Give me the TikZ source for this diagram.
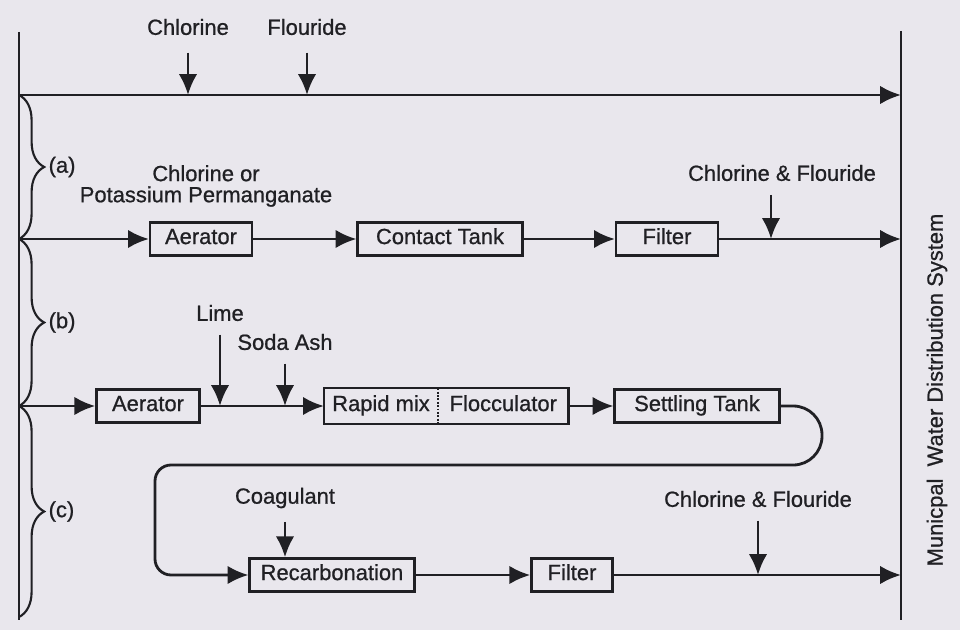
\documentclass[tikz,border=0pt]{standalone}
\usepackage{fontspec}
\setmainfont[FakeBold=0.8]{Liberation Sans}
\usetikzlibrary{arrows.meta, positioning, decorations.pathreplacing}

\definecolor{paper}{RGB}{233,231,237}
\definecolor{ink}{RGB}{32,32,36}

\tikzset{
  pipe/.style={ink, line width=2pt},
  flow/.style={pipe, -{Latex[length=5.2mm,width=4.6mm]}},
  unit/.style={draw=ink, line width=1.6pt, minimum height=0.83cm, inner sep=0pt,
    text=ink, text height=0.72em, text depth=0pt},
  chem/.style={text=ink, inner sep=1pt},
  bracelet/.style={ink, line width=1.5pt, decorate, decoration={brace, amplitude=0.63cm}}
}

\begin{document}
\begin{tikzpicture}[x=0.025cm, y=-0.025cm, font=\fontsize{15.6}{15}\selectfont]
\fill[paper] (0,0) rectangle (960,630);
\useasboundingbox (0,0) rectangle (960,630);

% collecting mains
\coordinate (busT) at (19,32);
\coordinate (busB) at (19,620);
\coordinate (mainT) at (901,31);
\coordinate (mainB) at (901,620);
\draw[pipe] (busT) -- (busB);
\draw[pipe] (mainT) -- (mainB);
\node[chem, rotate=90] (mwds) at (937,390) {Municpal\ \ Water Distribution System};

% direct line
\coordinate (ta) at (19,95);
\coordinate (tb) at (mainT |- ta);
\node[chem] (cl0) at (188,27) {Chlorine};
\node[chem] (fl0) at (307,27) {Flouride};
\draw[flow] (ta) -- (tb);
\draw[flow, shorten <=0.4cm] (cl0.south) -- (cl0.south |- ta);
\draw[flow, shorten <=0.4cm] (fl0.south) -- (fl0.south |- ta);

% route (a)
\coordinate (aa) at (19,239);
\node[unit, minimum width=2.55cm] (aer1) at (201,239) {Aerator};
\node[unit, minimum width=4.12cm] (ctank) at (440,239) {Contact Tank};
\node[unit, minimum width=2.55cm] (filt1) at (667,239) {Filter};
\coordinate (ab) at (mainT |- aa);
\node[chem, align=center] (kmno) at (206,186) {Chlorine or\\Potassium Permanganate};
\node[chem] (clf1) at (782,173) {Chlorine \& Flouride};
\draw[flow] (aa) -- (aer1);
\draw[flow] (aer1) -- (ctank);
\draw[flow] (ctank) -- (filt1);
\draw[flow] (filt1) -- (ab);
\draw[flow] (771,195) -- (771,239);

% route (b)
\coordinate (ba) at (19,406);
\node[unit, minimum width=2.58cm] (aer2) at (148,406) {Aerator};
\node[unit, minimum width=2.8cm, draw=none] (rmix) at (381,406) {Rapid mix};
\node[unit, minimum width=3.2cm, draw=none, right=0pt of rmix] (floc) {Flocculator};
\draw[ink, line width=1.6pt] (rmix.north west) rectangle (floc.south east);
\draw[ink, line width=1.4pt, densely dotted] (rmix.north east) -- (rmix.south east);
\node[unit, minimum width=4.12cm] (settle) at (697,406) {Settling Tank};
\node[chem] (lime) at (220,313) {Lime};
\node[chem] (soda) at (285,342) {Soda Ash};
\draw[flow] (ba) -- (aer2);
\draw[flow] (aer2) -- (rmix);
\draw[flow] (floc) -- (settle);
\draw[flow, shorten <=0.3cm] (lime.south) -- (lime.south |- ba);
\draw[flow, shorten <=0.3cm] (soda.south) -- (soda.south |- ba);

% route (c)
\node[unit, minimum width=4.12cm] (recarb) at (332,575) {Recarbonation};
\node[unit, minimum width=2.03cm] (filt2) at (572,575) {Filter};
\coordinate (cb) at (mainT |- filt2);
\node[chem] (coag) at (285,498) {Coagulant};
\node[chem] (clf2) at (758,499) {Chlorine \& Flouride};
\draw[flow] (settle.east) [rounded corners=0.72cm] -- (822,406) -- (822,465)
  [rounded corners=0.4cm] -- (155,465) -- (155,575) -- (recarb.west);
\draw[flow] (recarb) -- (filt2);
\draw[flow] (filt2) -- (cb);
\draw[flow, shorten <=0.3cm] (coag.south) -- (recarb.north -| coag.south);
\draw[flow, shorten <=0.3cm] (clf2.south) -- (clf2.south |- cb);

% braces
\draw[bracelet] (ta) -- (aa) node[midway, right=0.68cm, chem] (lbla) {(a)};
\draw[bracelet] (aa) -- (ba) node[midway, right=0.68cm, chem] (lblb) {(b)};
\draw[bracelet] (ba) -- (19,617) node[midway, right=0.68cm, chem] (lblc) {(c)};
\end{tikzpicture}
\end{document}
